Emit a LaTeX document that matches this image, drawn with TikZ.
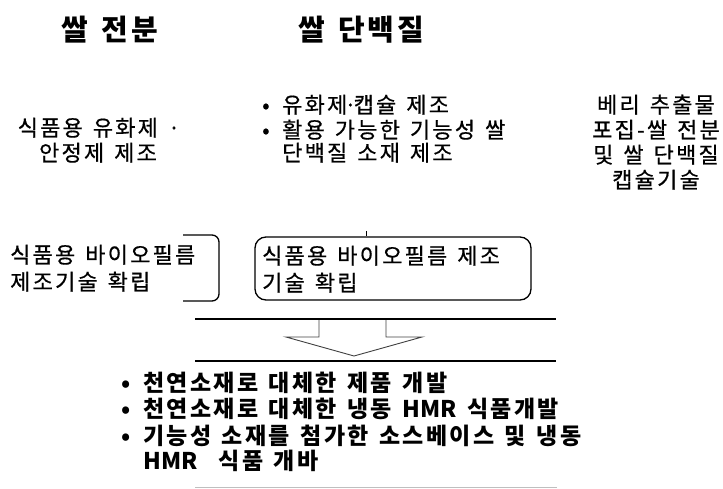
\documentclass[tikz,border=0pt]{standalone}
\usepackage{fontspec}
\setmainfont{Noto Sans CJK KR}
\newfontfamily\krr{Noto Sans CJK KR}[LetterSpace=10,WordSpace=1.4,FakeBold=0.6]
\newfontfamily\krb{Noto Sans CJK KR}[LetterSpace=10,WordSpace=1.4]
\newcommand{\nols}[1]{{\addfontfeature{LetterSpace=0}#1}}
\begin{document}
\begin{tikzpicture}[x=1pt,y=-1pt,
  ttl/.style={inner sep=0pt,anchor=base,font=\krb\fontsize{29}{32}\selectfont\bfseries},
  txt/.style={inner sep=0pt,anchor=base,font=\krr\fontsize{22}{25}\selectfont},
  btxt/.style={inner sep=0pt,anchor=base west,font=\krb\fontsize{23}{26}\selectfont\bfseries},
  thick line/.style={line width=2.6pt,black},
  arrowline/.style={line width=0.9pt,black!75}]
\useasboundingbox (0,0) rectangle (723,489);
% titles
\node[ttl] (t1) at (110,41) {쌀 전분};
\node[ttl] (t2) at (361,41) {쌀 단백질};
% left column
\node[txt] (l1) at (99,136) {식품용 유화제 ·};
\node[txt] (l2) at (98,161) {안정제 제조};
% middle bullets
\node[txt,anchor=base west] (b1) at (262,113) {•};
\node[txt,anchor=base west] (m1) at (282,113) {유화제\kern-3pt·\kern-3pt캡슐 제조};
\node[txt,anchor=base west] (b2) at (262,138) {•};
\node[txt,anchor=base west] (m2) at (282,138) {활용 가능한 기능성 쌀};
\node[txt,anchor=base west] (m3) at (282,161) {단백질 소재 제조};
% right column
\node[txt] (r1) at (656,113) {베리 추출물};
\node[txt] (r2) at (656,138) {포집-쌀 전분};
\node[txt] (r3) at (656,163) {및 쌀 단백질};
\node[txt] (r4) at (656,188) {캡슐기술};
% biofilm left
\node[txt,anchor=base west] (f1) at (10,263) {식품용 바이오필름};
\node[txt,anchor=base west] (f2) at (10,290) {제조기술 확립};
\draw[line width=1.3pt,rounded corners=7pt] (183,235) -- (219,235) -- (219,301) -- (183,301);
% biofilm box
\draw[line width=1.3pt,rounded corners=11pt] (255,237) rectangle (531,300);
\node[txt,anchor=base west] (g1) at (262,264) {식품용 바이오필름 제조};
\node[txt,anchor=base west] (g2) at (262,291) {기술 확립};
\draw[line width=1pt] (366,231) -- (366,236);
% thick lines and arrow
\draw[thick line] (195,319) -- (556,319);
\draw[thick line] (195,361) -- (556,361);
\draw[arrowline] (319,320) -- (319,337) -- (286,337) -- (354,356) -- (422,337) -- (386,337) -- (386,320);
% bottom bullets
\node[btxt] (c1) at (121,391.5) {•};
\node[btxt] (d1) at (143,391.5) {천연소재로 대체한 제품 개발};
\node[btxt] (c2) at (121,417.5) {•};
\node[btxt] (d2) at (143,417.5) {천연소재로 대체한 냉동 \nols{HMR} 식품개발};
\node[btxt] (c3) at (121,444.5) {•};
\node[btxt] (d3) at (143,444.5) {기능성 소재를 첨가한 소스베이스 및 냉동};
\node[btxt] (d4) at (143,469.5) {\nols{HMR}~~식품 개바};
\draw[black!25,line width=1pt] (195,487.5) -- (557,487.5);
\end{tikzpicture}
\end{document}
